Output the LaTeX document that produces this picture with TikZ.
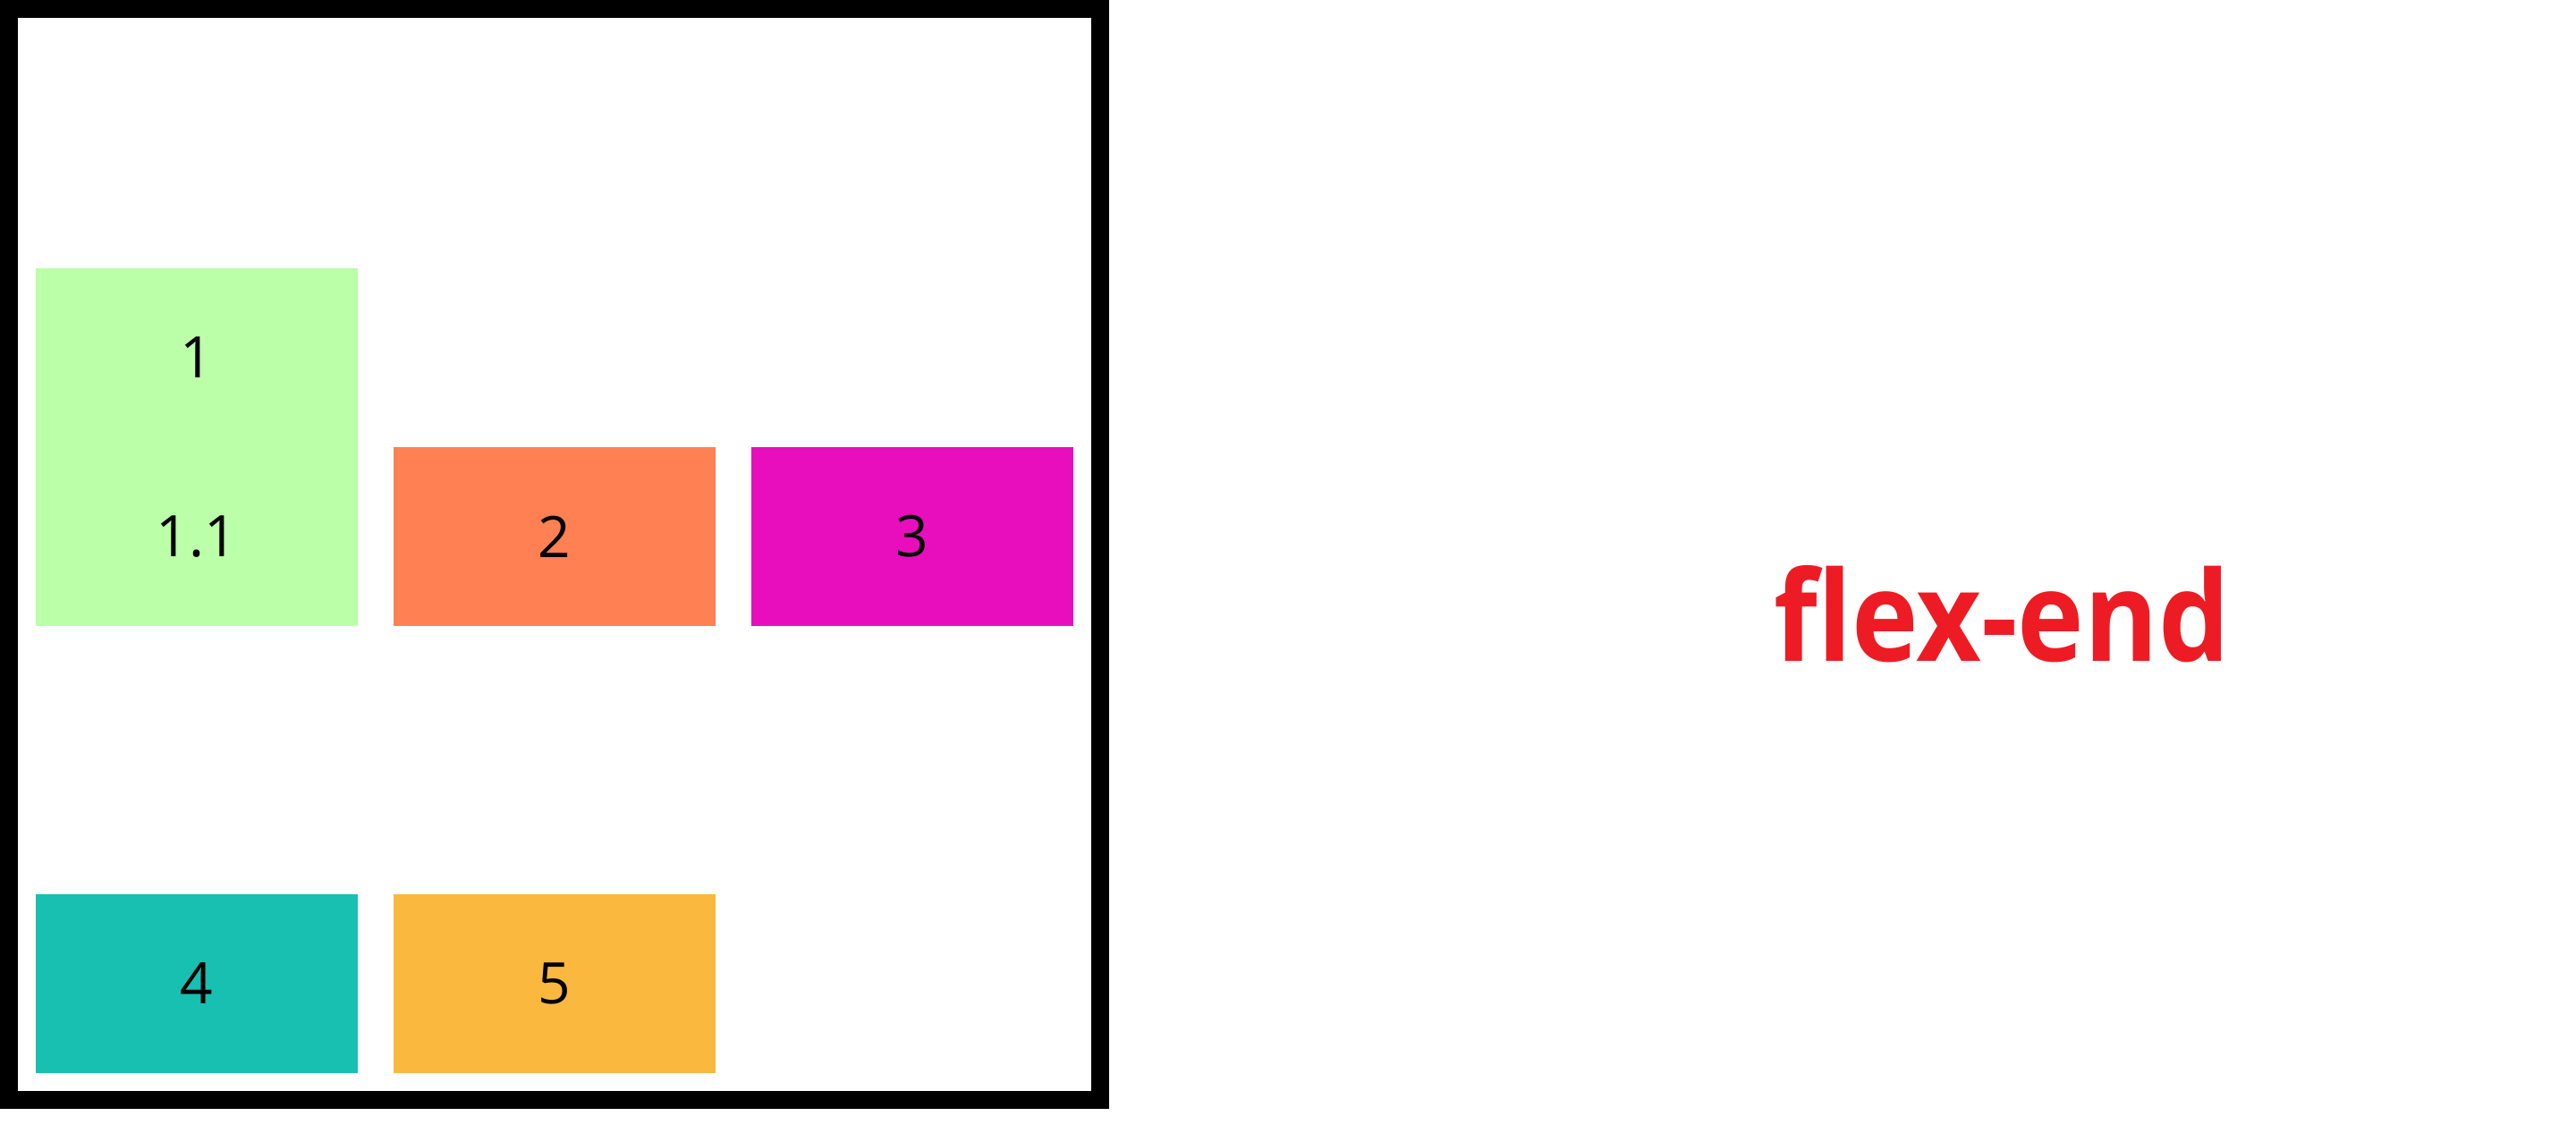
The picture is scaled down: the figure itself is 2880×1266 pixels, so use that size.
\documentclass[tikz,border=0pt]{standalone}
\usepackage{fontspec}
\setmainfont{Open Sans}
\definecolor{cgreen}{RGB}{187,255,168}
\definecolor{corange}{RGB}{255,128,82}
\definecolor{cmagenta}{RGB}{232,14,190}
\definecolor{cteal}{RGB}{23,192,177}
\definecolor{cyellow}{RGB}{251,184,62}
\definecolor{cred}{RGB}{237,28,36}
\begin{document}
\begin{tikzpicture}[x=0.25pt,y=-0.25pt,
  item/.style={rectangle,inner sep=0pt,outer sep=0pt,anchor=north west,
    minimum width=90pt,minimum height=50pt,
    font=\fontsize{16}{50}\selectfont,align=center,text=black},
  frame/.style={draw=black,line width=5pt,rectangle,inner sep=0pt,outer sep=0pt,anchor=north west}]
\useasboundingbox (0,0) rectangle (2880,1266);
\fill[white] (0,0) rectangle (2880,1266);
\node[frame,minimum width=305pt,minimum height=305pt] (container) at (10,10) {};
\node[item,fill=cgreen,minimum height=100pt] (one) at (40,300) {1\\1.1};
\node[item,fill=corange] (two) at (440,500) {2};
\node[item,fill=cmagenta] (three) at (840,500) {3};
\node[item,fill=cteal] (four) at (40,1000) {4};
\node[item,fill=cyellow] (five) at (440,1000) {5};
\node[font=\fontsize{35}{40}\bfseries\selectfont,text=cred,inner sep=0pt,anchor=base] (title) at (2238,739) {\scalebox{0.9}[1]{flex-end}};
\end{tikzpicture}
\end{document}
